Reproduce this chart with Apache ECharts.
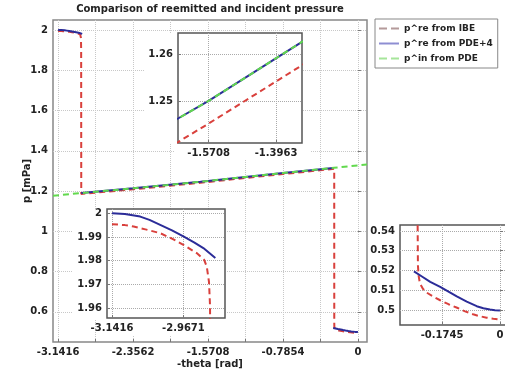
<!DOCTYPE html>
<html>
<head>
<meta charset="utf-8">
<script src="https://cdn.jsdelivr.net/npm/echarts@6/dist/echarts.min.js"></script>
<style>
  html, body { margin: 0; padding: 0; background: #fff; }
  #chart { width: 505px; height: 374px; }
</style>
</head>
<body>
<div id="chart"></div>
<script>
// ---------------- data ----------------
// p^re from IBE (red dashed)
const ibeTheta = [-3.1416, -3.11, -3.0888, -3.06, -3.0238, -2.995, -2.9671, -2.9346, -2.9166, -2.910, -2.9045, -2.902, -2.900, -2.899,
                  -2.3562, -1.65, -1.5708, -1.3333, -0.7854, -0.2485,
                  -0.248, -0.247, -0.245, -0.241, -0.232, -0.22, -0.20, -0.18, -0.155, -0.129, -0.105, -0.081, -0.06, -0.04, -0.02, 0];
const ibeP     = [1.9954, 1.9950, 1.9944, 1.9932, 1.9916, 1.9893, 1.9867, 1.9832, 1.9804, 1.9775, 1.971, 1.961, 1.90, 1.186,
                  1.2087, 1.2411, 1.2451, 1.2575, 1.2845, 1.3105,
                  0.545, 0.5226, 0.5175, 0.5135, 0.5108, 0.5088, 0.5068, 0.5050, 0.5030, 0.5012, 0.4994, 0.4979, 0.4969, 0.4962, 0.4957, 0.4953];
// p^re from PDE+4 (blue solid), null = gap
const pdeTheta = [-3.1416, -3.11, -3.0726, -3.05, -3.0238, -2.995, -2.9671, -2.94, -2.9183, -2.889, -2.894,
                  -2.899, -2.3562, -1.65, -1.5708, -1.329, -0.7854, -0.26, -0.2595,
                  -0.259, -0.235, -0.21, -0.18, -0.155, -0.13, -0.10, -0.07, -0.05, -0.03, -0.015, 0];
const pdeP     = [2.0, 1.9997, 1.9986, 1.9972, 1.9951, 1.9928, 1.9902, 1.9876, 1.9853, 1.9811, null,
                  1.19, 1.2135, 1.2462, 1.25, 1.2628, 1.2895, 1.315, null,
                  0.5196, 0.5170, 0.5143, 0.5118, 0.5093, 0.5069, 0.5043, 0.5020, 0.5010, 0.5003, 0.5000, 0.4998];
// p^in from PDE (green dashed)
const inTheta  = [-3.195, -2.9, -2.3562, -1.65, -1.5708, -1.329, -0.7854, -0.25, 0.095];
const inP      = [1.177, 1.19, 1.2135, 1.2462, 1.25, 1.2628, 1.2895, 1.3155, 1.332];

const seriesNames = ['p^re from IBE', 'p^re from PDE+4', 'p^in from PDE'];

// tick labels
const mainXTicks = [-3.1416, -2.3562, -1.5708, -0.7854, 0];
const mainXTickLabels = ['-3.1416', '-2.3562', '-1.5708', '-0.7854', '0'];
const mainXMinorTicks = [-2.7489, -1.9635, -1.1781, -0.3927];
const mainYTicks = [0.6, 0.8, 1.0, 1.2, 1.4, 1.6, 1.8, 2.0];
const mainYTickLabels = ['0.6', '0.8', '1', '1.2', '1.4', '1.6', '1.8', '2'];

const in1XTicks = [-1.5708, -1.3963];
const in1XTickLabels = ['-1.5708', '-1.3963'];
const in1YTicks = [1.25, 1.26];
const in1YTickLabels = ['1.25', '1.26'];

const in2XTicks = [-3.1416, -2.9671];
const in2XTickLabels = ['-3.1416', '-2.9671'];
const in2YTicks = [1.96, 1.97, 1.98, 1.99, 2.0];
const in2YTickLabels = ['1.96', '1.97', '1.98', '1.99', '2'];

const in3XTicks = [-0.1745, 0];
const in3XTickLabels = ['-0.1745', '0'];
const in3YTicks = [0.5, 0.51, 0.52, 0.53, 0.54];
const in3YTickLabels = ['0.5', '0.51', '0.52', '0.53', '0.54'];

// ---------------- build ----------------
function zip(xs, ys) {
  return xs.map((x, i) => [x, ys[i] === null ? '-' : ys[i]]);
}
const ibeData = zip(ibeTheta, ibeP);
const pdeData = zip(pdeTheta, pdeP);
const inData = zip(inTheta, inP);

function labelFmt(ticks, labels) {
  return function (v) {
    const i = ticks.findIndex(t => Math.abs(t - v) < 1e-6);
    return i >= 0 ? labels[i] : '';
  };
}

const FONT = 'DejaVu Sans';
const labelStyle = { fontFamily: FONT, fontWeight: 'bold', fontSize: 10, color: '#222' };
const nameStyle = { fontFamily: FONT, fontWeight: 'bold', fontSize: 10, color: '#222' };

function makeAxis(idx, min, max, ticks, labels, extraTicks, opts) {
  return Object.assign({
    type: 'value',
    gridIndex: idx,
    min: min, max: max,
    z: opts.z,
    axisLine: { show: false },
    axisTick: { show: true, inside: true, length: 3, customValues: ticks.concat(extraTicks || []),
                lineStyle: { color: '#777', width: 1 } },
    axisLabel: Object.assign({ customValues: ticks, formatter: labelFmt(ticks, labels), margin: 5,
                               showMinLabel: true, showMaxLabel: true }, labelStyle),
    splitLine: { show: true, lineStyle: { color: opts.gridColor, type: 'dotted', width: 1 } }
  }, opts.extra || {});
}

const zInsetGrid = 6, zInsetAxis = 7, zInsetSeries = 8;

const gridCommon = { show: true, containLabel: false, outerBoundsMode: 'none' };
const grids = [
  Object.assign({ left: 53, top: 20, right: 138, bottom: 32, borderColor: '#888', borderWidth: 1.5, backgroundColor: 'transparent', z: 0 }, gridCommon),
  Object.assign({ left: 178, top: 33, width: 124, height: 110, borderColor: '#555', borderWidth: 1.5, backgroundColor: '#fff', z: zInsetGrid }, gridCommon),
  Object.assign({ left: 107, top: 209, width: 118, height: 109, borderColor: '#555', borderWidth: 1.5, backgroundColor: '#fff', z: zInsetGrid }, gridCommon),
  Object.assign({ left: 400, top: 225, width: 130, height: 100, borderColor: '#555', borderWidth: 1.5, backgroundColor: '#fff', z: zInsetGrid }, gridCommon)
];

const xAxes = [
  makeAxis(0, -3.195, 0.095, mainXTicks, mainXTickLabels, mainXMinorTicks, {
    z: 0, gridColor: '#c8c8c8',
    extra: { name: '-theta [rad]', nameLocation: 'middle', nameGap: 17, nameMoveOverlap: false, nameTextStyle: nameStyle }
  }),
  makeAxis(1, -1.650, -1.329, in1XTicks, in1XTickLabels, [], { z: zInsetAxis, gridColor: '#aaa' }),
  makeAxis(2, -3.1538, -2.8654, in2XTicks, in2XTickLabels, [], { z: zInsetAxis, gridColor: '#aaa' }),
  makeAxis(3, -0.301, 0.0905, in3XTicks, in3XTickLabels, [], { z: zInsetAxis, gridColor: '#aaa' })
];
const yAxes = [
  makeAxis(0, 0.45, 2.05, mainYTicks, mainYTickLabels, [], {
    z: 0, gridColor: '#c8c8c8',
    extra: { name: 'p [mPa]', nameLocation: 'middle', nameGap: 21, nameRotate: 90, nameMoveOverlap: false, nameTextStyle: nameStyle }
  }),
  makeAxis(1, 1.2409, 1.2647, in1YTicks, in1YTickLabels, [], { z: zInsetAxis, gridColor: '#aaa' }),
  makeAxis(2, 1.9558, 2.0018, in2YTicks, in2YTickLabels, [], { z: zInsetAxis, gridColor: '#aaa' }),
  makeAxis(3, 0.4925, 0.543, in3YTicks, in3YTickLabels, [], { z: zInsetAxis, gridColor: '#aaa' })
];

const RED = '#d9403c', BLUE = '#2b2c98', GREEN = '#62d94e';
function seriesFor(gi, z) {
  const common = { type: 'line', xAxisIndex: gi, yAxisIndex: gi, z: z, showSymbol: false, symbol: 'none',
                   connectNulls: false, animation: false };
  return [
    Object.assign({ name: seriesNames[0], data: ibeData,
      lineStyle: { color: RED, width: 2, type: [6, 4] }, itemStyle: { color: RED } }, common),
    Object.assign({ name: seriesNames[1], data: pdeData,
      lineStyle: { color: BLUE, width: 2, type: 'solid' }, itemStyle: { color: BLUE } }, common),
    Object.assign({ name: seriesNames[2], data: inData,
      lineStyle: { color: GREEN, width: 2, type: [6, 4] }, itemStyle: { color: GREEN } }, common)
  ];
}

const series = [].concat(
  seriesFor(0, 2),
  seriesFor(1, zInsetSeries),
  seriesFor(2, zInsetSeries),
  seriesFor(3, zInsetSeries)
);

const DASH_ICON = 'path://M0,0H8V2H0Z M12,0H20V2H12Z';
const SOLID_ICON = 'path://M0,0H20V2H0Z';

const chart = echarts.init(document.getElementById('chart'), null, { renderer: 'canvas' });
chart.setOption({
  animation: false,
  backgroundColor: '#fff',
  title: {
    text: 'Comparison of reemitted and incident pressure',
    left: 210, textAlign: 'center', top: 4, padding: 0,
    textStyle: { fontFamily: FONT, fontWeight: 'bold', fontSize: 10, color: '#222' }
  },
  legend: {
    data: [
      { name: seriesNames[0], icon: DASH_ICON, itemStyle: { color: '#b49a9a' } },
      { name: seriesNames[1], icon: SOLID_ICON, itemStyle: { color: '#8e8ed2' } },
      { name: seriesNames[2], icon: DASH_ICON, itemStyle: { color: '#a6e59a' } }
    ],
    orient: 'vertical',
    left: 375, top: 19,
    padding: [5, 5, 5, 4],
    itemGap: 6, itemWidth: 20, itemHeight: 2,
    borderColor: '#888', borderWidth: 1, backgroundColor: '#fff',
    textStyle: { fontFamily: FONT, fontWeight: 'bold', fontSize: 9, color: '#222' }
  },
  graphic: {
    elements: [
      { type: 'rect', shape: { x: 145, y: 33, width: 158, height: 111 }, style: { fill: '#fff' }, z: 5, silent: true },
      { type: 'rect', shape: { x: 175, y: 143, width: 135, height: 17 }, style: { fill: '#fff' }, z: 5, silent: true },
      { type: 'rect', shape: { x: 72, y: 209, width: 154, height: 110 }, style: { fill: '#fff' }, z: 5, silent: true },
      { type: 'rect', shape: { x: 100, y: 318, width: 130, height: 17 }, style: { fill: '#fff' }, z: 5, silent: true }
    ]
  },
  grid: grids,
  xAxis: xAxes,
  yAxis: yAxes,
  series: series
});
</script>
</body>
</html>
